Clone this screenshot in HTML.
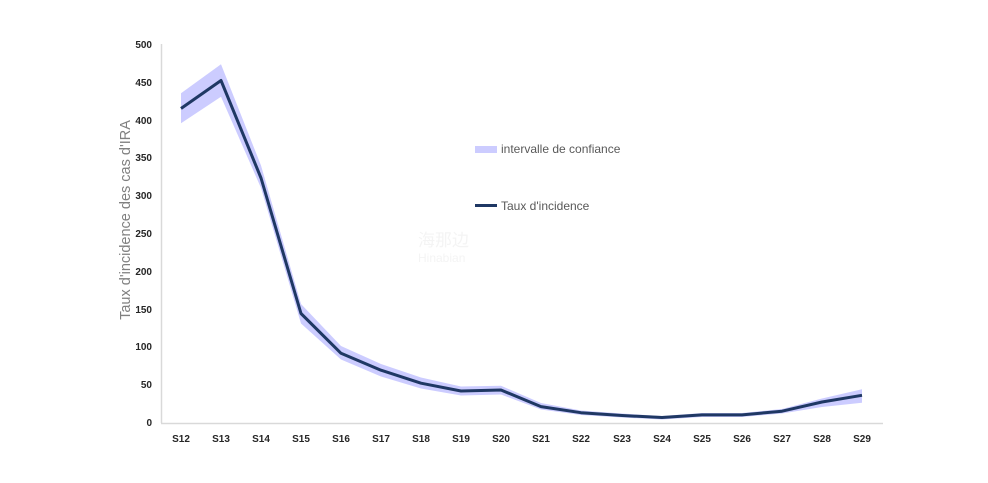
<!DOCTYPE html>
<html><head><meta charset="utf-8"><style>
html,body{margin:0;padding:0;background:#fff;}
svg{display:block;}
</style></head><body>
<svg width="988" height="483" viewBox="0 0 988 483" xmlns="http://www.w3.org/2000/svg" font-family="Liberation Sans, sans-serif">
<rect width="988" height="483" fill="#fff"/>
<!-- axes -->
<line x1="161.5" y1="44" x2="161.5" y2="423" stroke="#d9d9d9" stroke-width="1.5"/>
<line x1="161" y1="423.5" x2="883" y2="423.5" stroke="#d9d9d9" stroke-width="1.5"/>
<!-- y tick labels -->
<g font-size="10" font-weight="bold" fill="#262626" text-anchor="end">
<text x="152" y="48">500</text>
<text x="152" y="86">450</text>
<text x="152" y="124">400</text>
<text x="152" y="161">350</text>
<text x="152" y="199">300</text>
<text x="152" y="237">250</text>
<text x="152" y="275">200</text>
<text x="152" y="313">150</text>
<text x="152" y="350">100</text>
<text x="152" y="388">50</text>
<text x="152" y="426">0</text>
</g>
<text transform="translate(130,220) rotate(-90)" font-size="14.5" fill="#808080" text-anchor="middle">Taux d'incidence des cas d'IRA</text>
<!-- x labels -->
<g font-size="10" font-weight="bold" fill="#262626" text-anchor="middle">
<text x="181" y="442">S12</text><text x="221" y="442">S13</text><text x="261" y="442">S14</text><text x="301" y="442">S15</text>
<text x="341" y="442">S16</text><text x="381" y="442">S17</text><text x="421" y="442">S18</text><text x="461" y="442">S19</text>
<text x="501" y="442">S20</text><text x="541" y="442">S21</text><text x="581" y="442">S22</text><text x="622" y="442">S23</text>
<text x="662" y="442">S24</text><text x="702" y="442">S25</text><text x="742" y="442">S26</text><text x="782" y="442">S27</text>
<text x="822" y="442">S28</text><text x="862" y="442">S29</text>
</g>
<!-- confidence band -->
<polygon fill="#ccccff" points="
181,93.3 221,64.3 261,165.5 301,304 341,346 381,364 421,377.5 461,386.5 501,385.8 541,403 581,410.5 622,413.5 662,416 702,413 742,413 782,409 822,398.5 862,389.3
862,402.7 822,407 782,413.5 742,417 702,417 662,419.5 622,417.5 581,415 541,409.5 501,394.5 461,395.5 421,388.5 381,376.5 341,359.5 301,323.5 261,188 221,96.7 181,123.3"/>
<!-- line -->
<polyline fill="none" stroke="#1f3864" stroke-width="3" stroke-linejoin="round" points="
181,108.5 221,80.5 261,178 301,313.5 341,353.3 381,370.2 421,383.2 461,391 501,390 541,406.6 581,412.7 622,415.5 662,417.5 702,414.9 742,414.9 782,411.2 822,402 862,395.3"/>
<!-- legend -->
<rect x="475" y="146" width="22" height="7" fill="#ccccff"/>
<text x="501" y="153" font-size="12" fill="#595959">intervalle de confiance</text>
<line x1="475" y1="205.5" x2="497" y2="205.5" stroke="#1f3864" stroke-width="3"/>
<text x="501" y="210" font-size="12" fill="#595959">Taux d'incidence</text>
<!-- faint watermark -->
<text x="418" y="246" font-size="17" fill="#f4f4f4" font-family="Liberation Sans, Noto Sans CJK SC, sans-serif">海那边</text>
<text x="418" y="262" font-size="12" fill="#f4f4f4">Hinabian</text>
</svg>
</body></html>
